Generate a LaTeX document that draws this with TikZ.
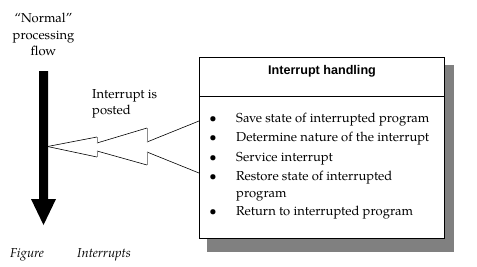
\documentclass[tikz,border=0pt]{standalone}
\usepackage{fontspec}
\setmainfont{TeX Gyre Pagella}
\newfontfamily\titlefont{Liberation Sans}
\begin{document}
\begin{tikzpicture}[x=1pt,y=-1pt,
  txt/.style={inner sep=0pt,font=\fontsize{13}{16.5}\selectfont},
  item/.style={txt,anchor=west,align=left},
  bul/.style={inner sep=0pt,font=\fontsize{13}{16}\selectfont},
  captxt/.style={inner sep=0pt,anchor=west,font=\fontsize{13}{14}\selectfont\itshape},
  outline/.style={draw=black,line width=0.6pt},
  notch/.style={draw=black!45,line width=0.8pt}]
\useasboundingbox (0,0) rectangle (477,266);
% shadow and box
\fill[black!50] (207,65) rectangle (454,252);
\node[draw,fill=white,line width=0.8pt,minimum width=245pt,minimum height=181pt,anchor=north west,inner sep=0pt] (box) at (199,57) {};
\draw[line width=0.8pt] (199,96) -- (444,96);
\node[inner sep=0pt,font=\titlefont\bfseries\fontsize{12.6}{14}\selectfont] (title) at (322,71) {Interrupt handling};
% items
\foreach \y/\t [count=\i] in {120/Save state of interrupted program,139/Determine nature of the interrupt,159/Service interrupt,186/{Restore state of interrupted\\program},213/Return to interrupted program}{
  \node[item] (it\i) at (236,\y) {\t};
}
\foreach \y [count=\i] in {120,139,159,178,213}{
  \node[bul] (b\i) at (213,\y) {\textbullet};
}
% normal flow
\node[txt,align=center] (flow) at (43.5,34.5) {“Normal”\\processing\\flow};
\fill (39,71) -- (48,71) -- (48,199) -- (56,199) -- (43.5,225) -- (31,199) -- (39,199) -- cycle;
\node[inner sep=0pt] (flowtip) at (43.5,225) {};
% interrupt posted arrow
\coordinate (tip) at (47.5,146.5);
\coordinate (boxU) at (box.west |- 0,121);
\coordinate (boxL) at (box.west |- 0,173);
\draw[outline] (tip) -- (97,137) (97,143) -- (147,128) (147,142) -- (boxU);
\draw[outline] (tip) -- (97,157) (97,151) -- (147,165) (147,152) -- (boxL);
\draw[notch] (97,137) -- (97,143) (97,151) -- (97,157) (147,128) -- (147,142) (147,152) -- (147,165);
\node[txt,anchor=west,align=left] (posted) at (92,104) {Interrupt is\\posted};
% caption
\node[captxt] (fig) at (10,255) {Figure};
\node[captxt] (intr) at (77,255) {Interrupts};
\end{tikzpicture}
\end{document}
